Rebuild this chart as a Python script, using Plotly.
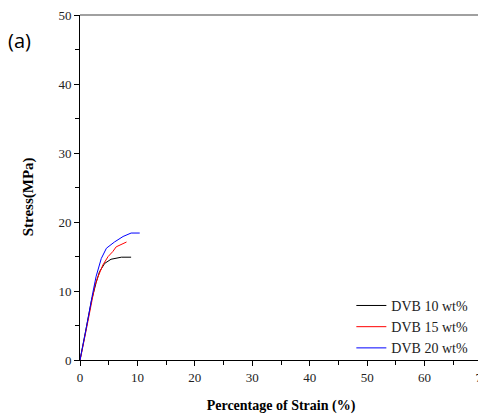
import plotly.graph_objects as go

# Data
strain_10 = [0.0, 0.1, 1.0, 2.0, 2.8, 3.4, 4.3, 5.4, 7.2, 8.9]
stress_10 = [0.0, 0.4, 4.1, 8.6, 11.2, 12.8, 14.0, 14.6, 14.9, 14.9]

strain_15 = [0.0, 0.1, 1.0, 2.0, 2.6, 3.1, 4.0, 4.9, 5.7, 6.3, 8.1]
stress_15 = [0.0, 0.3, 4.0, 8.5, 10.8, 12.0, 13.8, 15.0, 15.7, 16.4, 17.1]

strain_20 = [0.0, 0.1, 1.0, 2.1, 2.8, 3.7, 4.6, 6.0, 7.5, 8.9, 10.4]
stress_20 = [0.0, 0.4, 4.2, 9.2, 12.1, 14.7, 16.2, 17.1, 17.9, 18.4, 18.4]

series = [
    ("DVB 10 wt%", strain_10, stress_10, "black"),
    ("DVB 15 wt%", strain_15, stress_15, "red"),
    ("DVB 20 wt%", strain_20, stress_20, "blue"),
]

fig = go.Figure()
for name, x, y, c in series:
    fig.add_trace(go.Scatter(x=x, y=y, mode="lines", name=name,
                             line=dict(color=c, width=1)))

serif = "Liberation Serif"
fig.update_layout(
    width=478, height=406,
    margin=dict(l=72, r=4, t=7, b=54),
    paper_bgcolor="white", plot_bgcolor="white",
    font=dict(family=serif, size=13, color="#222"),
    showlegend=True,
    legend=dict(x=0.675, y=0.096, xanchor="left", yanchor="middle",
                font=dict(family=serif, size=14, color="#222"),
                bgcolor="rgba(0,0,0,0)", tracegroupgap=0),
    xaxis=dict(range=[0, 70], dtick=10, showgrid=False, zeroline=False,
               automargin=False, ticklabeloverflow="allow",
               showline=True, linecolor="black", linewidth=1,
               ticks="outside", ticklen=5, tickcolor="black",
               minor=dict(dtick=5, ticks="outside", ticklen=4, tickcolor="black"),
               tickfont=dict(family=serif, size=13),
               title=dict(text="<b>Percentage of Strain (%)</b>",
                          font=dict(family=serif, size=14, color="black"), standoff=17)),
    yaxis=dict(range=[0, 50], dtick=10, showgrid=False, zeroline=False,
               automargin=False, ticklabeloverflow="allow",
               showline=True, linecolor="black", linewidth=1,
               ticks="outside", ticklen=5, tickcolor="black",
               minor=dict(dtick=5, ticks="outside", ticklen=4, tickcolor="black"),
               tickfont=dict(family=serif, size=13)),
    shapes=[
        dict(type="line", xref="paper", yref="paper", x0=0, x1=1, y0=1, y1=1,
             line=dict(color="gray", width=1.5)),
        dict(type="line", xref="paper", yref="paper", x0=1, x1=1, y0=0, y1=1,
             line=dict(color="#333", width=1.5)),
    ],
    annotations=[
        dict(text="(a)", xref="paper", yref="paper", x=-0.185, y=0.925,
             xanchor="left", yanchor="middle", showarrow=False,
             font=dict(family="Open Sans", size=20, color="black")),
        dict(text="<b>Stress(MPa)</b>", xref="paper", yref="paper",
             x=-0.129, y=0.472, xanchor="center", yanchor="middle",
             textangle=-90, showarrow=False,
             font=dict(family=serif, size=15, color="black")),
    ],
)

fig.write_html("out.html")
